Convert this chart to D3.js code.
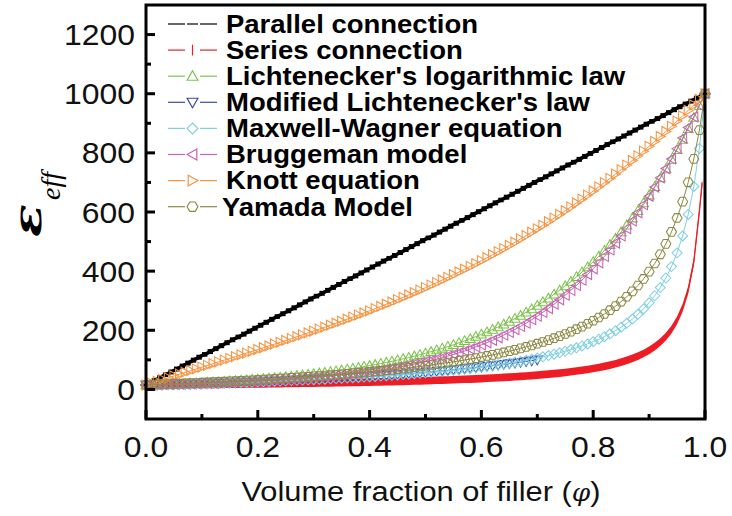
<!DOCTYPE html>
<html>
<head>
<meta charset="utf-8">
<script src="https://cdn.jsdelivr.net/npm/d3@7"></script>
<style>
  body { margin: 0; background: #fff; }
  svg { display: block; }
</style>
</head>
<body>
<svg id="chart" width="732" height="516"></svg>
<script>
// Volume fraction grid (step 0.01)
const phi = [0,0.01,0.02,0.03,0.04,0.05,0.06,0.07,0.08,0.09,
  0.1,0.11,0.12,0.13,0.14,0.15,0.16,0.17,0.18,0.19,
  0.2,0.21,0.22,0.23,0.24,0.25,0.26,0.27,0.28,0.29,
  0.3,0.31,0.32,0.33,0.34,0.35,0.36,0.37,0.38,0.39,
  0.4,0.41,0.42,0.43,0.44,0.45,0.46,0.47,0.48,0.49,
  0.5,0.51,0.52,0.53,0.54,0.55,0.56,0.57,0.58,0.59,
  0.6,0.61,0.62,0.63,0.64,0.65,0.66,0.67,0.68,0.69,
  0.7,0.71,0.72,0.73,0.74,0.75,0.76,0.77,0.78,0.79,
  0.8,0.81,0.82,0.83,0.84,0.85,0.86,0.87,0.88,0.89,
  0.9,0.91,0.92,0.93,0.94,0.95,0.96,0.97,0.98,0.99,1];

const parallelValues = [15,25,35,45,54,64,74,84,94,104,
  114,123,133,143,153,163,173,182,192,202,
  212,222,232,242,251,261,271,281,291,301,
  311,320,330,340,350,360,370,379,389,399,
  409,419,429,439,448,458,468,478,488,498,
  508,517,527,537,547,557,567,576,586,596,
  606,616,626,636,645,655,665,675,685,695,
  705,714,724,734,744,754,764,773,783,793,
  803,813,823,833,842,852,862,872,882,892,
  902,911,921,931,941,951,961,970,980,990,1000];

// Series connection: grid up to 0.99 plus a last point at 0.995
const seriesPhi = phi.slice(0, 100).concat([0.995]);
const seriesValues = [15.0,15.2,15.3,15.5,15.6,15.8,15.9,16.1,16.3,16.5,
  16.6,16.8,17.0,17.2,17.4,17.6,17.8,18.0,18.2,18.5,
  18.7,18.9,19.2,19.4,19.6,19.9,20.2,20.4,20.7,21.0,
  21.3,21.6,21.9,22.2,22.6,22.9,23.2,23.6,24.0,24.4,
  24.8,25.2,25.6,26.0,26.5,26.9,27.4,27.9,28.5,29.0,
  29.6,30.1,30.8,31.4,32.0,32.7,33.5,34.2,35.0,35.8,
  36.7,37.6,38.5,39.5,40.6,41.7,42.9,44.1,45.4,46.8,
  48.3,49.9,51.6,53.4,55.3,57.4,59.7,62.1,64.7,67.6,
  70.8,74.2,78.0,82.2,86.9,92.2,98.1,104.9,112.6,121.6,
  132.2,144.7,159.9,178.7,202.4,233.5,275.7,336.7,432.3,603.6,700];

const lichteneckerValues = [15.0,15.6,16.3,17.0,17.7,18.5,19.3,20.1,21.0,21.9,
  22.8,23.8,24.8,25.9,27.0,28.2,29.4,30.6,32.0,33.3,
  34.7,36.2,37.8,39.4,41.1,42.9,44.7,46.6,48.6,50.7,
  52.9,55.1,57.5,60.0,62.5,65.2,68.0,70.9,74.0,77.2,
  80.5,83.9,87.5,91.3,95.2,99.3,103.5,108.0,112.6,117.4,
  122.5,127.7,133.2,138.9,144.9,151.1,157.6,164.3,171.4,178.7,
  186.4,194.4,202.7,211.4,220.5,230.0,239.8,250.1,260.8,272.0,
  283.7,295.9,308.6,321.8,335.6,350.0,365.0,380.7,397.0,414.0,
  431.8,450.3,469.6,489.7,510.7,532.7,555.5,579.3,604.2,630.1,
  657.1,685.3,714.7,745.4,777.3,810.7,845.4,881.7,919.5,959.0,1000];

// Modified Lichtenecker: plotted up to 0.70
const modifiedPhi = phi.slice(0, 71);
const modifiedValues = [15.0,15.4,15.8,16.3,16.7,17.2,17.7,18.1,18.6,19.1,
  19.7,20.2,20.8,21.3,21.9,22.5,23.1,23.8,24.4,25.1,
  25.8,26.5,27.2,28.0,28.7,29.5,30.3,31.2,32.0,32.9,
  33.8,34.8,35.7,36.7,37.7,38.7,39.8,40.9,42.0,43.2,
  44.4,45.6,46.8,48.1,49.4,50.8,52.2,53.6,55.1,56.6,
  58.2,59.8,61.4,63.1,64.8,66.6,68.4,70.3,72.2,74.2,
  76.3,78.4,80.5,82.7,85.0,87.3,89.7,92.2,94.7,97.3,100.0];

const maxwellValues = [15.0,15.4,15.9,16.3,16.8,17.3,17.7,18.2,18.7,19.2,
  19.8,20.3,20.8,21.4,22.0,22.5,23.1,23.7,24.4,25.0,
  25.6,26.3,27.0,27.7,28.4,29.1,29.9,30.7,31.5,32.3,
  33.1,34.0,34.8,35.7,36.7,37.6,38.6,39.6,40.7,41.8,
  42.9,44.0,45.2,46.4,47.7,49.0,50.3,51.7,53.2,54.7,
  56.2,57.8,59.5,61.2,63.1,64.9,66.9,68.9,71.0,73.3,
  75.6,78.0,80.5,83.2,86.0,88.9,92.0,95.3,98.7,102.3,
  106.1,110.2,114.5,119.1,123.9,129.1,134.7,140.7,147.1,154.0,
  161.5,169.7,178.5,188.2,198.8,210.5,223.4,237.8,254.0,272.3,
  293.0,316.8,344.4,376.8,415.3,461.8,519.2,591.7,686.4,815.0,1000];

const bruggemanValues = [15.0,15.4,15.9,16.4,16.9,17.4,17.9,18.5,19.1,19.7,
  20.3,20.9,21.6,22.3,23.1,23.9,24.6,25.5,26.4,27.4,
  28.3,29.3,30.2,31.4,32.6,33.7,34.9,36.3,37.6,39.0,
  40.5,42.1,43.7,45.4,47.3,49.2,51.3,53.3,55.5,57.9,
  60.3,62.9,65.6,68.5,71.6,74.7,78.2,81.9,85.6,89.3,
  93.6,98.0,102.7,107.6,112.8,118.3,124.1,130.0,136.7,143.6,
  150.7,157.9,166.1,174.8,183.7,193.0,202.7,213.3,223.9,235.7,
  247.6,260.5,273.7,288.2,303.1,318.8,335.0,351.8,369.6,388.5,
  408.0,428.3,450.0,471.6,495.2,518.9,543.7,569.7,597.2,625.0,
  653.1,684.4,715.6,746.9,779.5,814.3,850.0,885.7,921.4,961.2,1000];

const knottValues = [15.0,21.2,27.3,33.4,39.4,45.5,51.5,57.5,63.4,69.4,
  75.3,81.3,87.2,93.2,99.1,105.0,111.0,117.0,122.9,129.0,
  135.0,141.0,147.1,153.3,159.4,165.6,171.9,178.2,184.5,190.9,
  197.4,203.9,210.5,217.2,223.9,230.7,237.6,244.5,251.6,258.7,
  266.0,273.3,280.7,288.3,295.9,303.7,311.5,319.5,327.6,335.8,
  344.2,352.7,361.3,370.0,378.9,388.0,397.2,406.5,416.0,425.6,
  435.5,445.4,455.6,465.9,476.4,487.1,497.9,509.0,520.2,531.6,
  543.2,555.1,567.1,579.3,591.8,604.4,617.3,630.4,643.7,657.2,
  671.0,685.0,699.2,713.7,728.4,743.4,758.6,774.1,789.8,805.8,
  822.1,838.6,855.4,872.5,889.8,907.5,925.4,943.6,962.1,980.9,1000];

const yamadaValues = [15.0,15.7,16.4,17.2,17.9,18.7,19.4,20.2,21.0,21.8,
  22.7,23.5,24.4,25.3,26.2,27.1,28.1,29.1,30.1,31.1,
  32.1,33.2,34.3,35.4,36.5,37.7,38.9,40.1,41.4,42.7,
  44.0,45.3,46.7,48.2,49.6,51.2,52.7,54.3,55.9,57.6,
  59.4,61.2,63.0,64.9,66.9,68.9,71.0,73.2,75.4,77.7,
  80.1,82.6,85.1,87.8,90.5,93.4,96.4,99.5,102.7,106.0,
  109.5,113.2,116.9,120.9,125.1,129.4,134.0,138.7,143.7,149.0,
  154.6,160.4,166.6,173.2,180.1,187.5,195.3,203.6,212.5,222.1,
  232.3,243.3,255.1,267.9,281.8,296.9,313.4,331.5,351.5,373.6,
  398.2,425.8,456.9,492.3,532.8,579.8,634.9,700.4,779.5,877.0,1000];

const modelNames = ["Parallel connection", "Series connection",
  "Lichtenecker's logarithmic law", "Modified Lichtenecker's law",
  "Maxwell-Wagner equation", "Bruggeman model", "Knott equation", "Yamada Model"];
const modelColors = ["#000000", "#ee1c25", "#7dc24a", "#3d4aa8",
  "#7fd0e2", "#c862b4", "#f7923f", "#8c8a44"];
const modelShapes = ["hbar", "band", "up", "down", "diamond", "left", "right", "hex"];

const xMajorTicks = [0, 0.2, 0.4, 0.6, 0.8, 1.0];
const xMinorTicks = [0.1, 0.3, 0.5, 0.7, 0.9];
const yMajorTicks = [0, 200, 400, 600, 800, 1000, 1200];
const yMinorTicks = [100, 300, 500, 700, 900, 1100];

const seriesList = [
  { phi: phi, values: parallelValues },
  { phi: seriesPhi, values: seriesValues },
  { phi: phi, values: lichteneckerValues },
  { phi: modifiedPhi, values: modifiedValues },
  { phi: phi, values: maxwellValues },
  { phi: phi, values: bruggemanValues },
  { phi: phi, values: knottValues },
  { phi: phi, values: yamadaValues }
].map((s, i) => ({
  name: modelNames[i], color: modelColors[i], shape: modelShapes[i],
  points: s.phi.map((p, j) => ({ p: p, v: s.values[j] }))
}));

const svg = d3.select("#chart");
const x = d3.scaleLinear().domain([0, 1]).range([146, 705]);
const y = d3.scaleLinear().domain([-100, 1300]).range([419, 5]);

// text is slightly wider than the regular face
const stretch = 1.1;

function markerPath(shape, r) {
  switch (shape) {
    case "hbar": return `M${-r},0H${r}`;
    case "vbar": case "band": return `M0,${-r}V${r}`;
    case "up": return `M0,${-r}L${r},${r*0.75}L${-r},${r*0.75}Z`;
    case "down": return `M0,${r}L${r},${-r*0.75}L${-r},${-r*0.75}Z`;
    case "left": return `M${-r},0L${r*0.8},${-r}L${r*0.8},${r}Z`;
    case "right": return `M${r},0L${-r*0.8},${-r}L${-r*0.8},${r}Z`;
    case "diamond": return `M0,${-r}L${r},0L0,${r}L${-r},0Z`;
    case "hex": {
      const pts = d3.range(6).map(k => [r * Math.cos(k * Math.PI / 3), r * Math.sin(k * Math.PI / 3)]);
      return "M" + pts.map(q => q.join(",")).join("L") + "Z";
    }
  }
  return "";
}

const line = d3.line().x(d => x(d.p)).y(d => y(d.v));
const plot = svg.append("g");

seriesList.forEach(s => {
  const g = plot.append("g");
  if (s.shape === "band") {
    // dense vertical bar markers merge into a band of constant vertical height
    g.append("path").datum(s.points)
      .attr("d", d3.area().x(d => x(d.p)).y0(d => y(d.v) + 3.8).y1(d => y(d.v) - 3.8))
      .attr("fill", s.color);
    g.append("path").datum(s.points).attr("d", line)
      .attr("fill", "none").attr("stroke", s.color).attr("stroke-width", 1.3);
    return;
  }
  const isBar = s.shape === "hbar";
  g.append("path").datum(s.points).attr("d", line)
    .attr("fill", "none").attr("stroke", s.color).attr("stroke-width", isBar ? 3.6 : 1);
  const r = isBar ? 5.5 : 5;
  g.selectAll("path.m").data(s.points).enter().append("path")
    .attr("class", "m")
    .attr("transform", d => `translate(${x(d.p)},${y(d.v)})`)
    .attr("d", markerPath(s.shape, r))
    .attr("fill", "none")
    .attr("stroke", s.color)
    .attr("stroke-width", isBar ? 2 : 1.05);
});

// Frame and inward ticks
const axes = svg.append("g").attr("stroke", "#000").attr("stroke-width", 3);
axes.append("rect")
  .attr("x", x(0)).attr("y", y(1300))
  .attr("width", x(1) - x(0)).attr("height", y(-100) - y(1300))
  .attr("fill", "none");
axes.selectAll("line.xmaj").data(xMajorTicks).enter().append("line")
  .attr("x1", d => x(d)).attr("x2", d => x(d)).attr("y1", y(-100)).attr("y2", y(-100) - 9);
axes.selectAll("line.xmin").data(xMinorTicks).enter().append("line")
  .attr("x1", d => x(d)).attr("x2", d => x(d)).attr("y1", y(-100)).attr("y2", y(-100) - 5);
axes.selectAll("line.ymaj").data(yMajorTicks).enter().append("line")
  .attr("y1", d => y(d)).attr("y2", d => y(d)).attr("x1", x(0)).attr("x2", x(0) + 9);
axes.selectAll("line.ymin").data(yMinorTicks).enter().append("line")
  .attr("y1", d => y(d)).attr("y2", d => y(d)).attr("x1", x(0)).attr("x2", x(0) + 5);

const sansFont = "'Liberation Sans', Arial, sans-serif";
svg.append("g").selectAll("text").data(xMajorTicks).enter().append("text")
  .attr("transform", d => `translate(${x(d)},457) scale(${stretch},1)`)
  .attr("text-anchor", "middle")
  .attr("font-family", sansFont).attr("font-size", 29).attr("fill", "#111")
  .text(d3.format(".1f"));
svg.append("g").selectAll("text").data(yMajorTicks).enter().append("text")
  .attr("transform", d => `translate(135,${y(d) + 10.5}) scale(${stretch},1)`)
  .attr("text-anchor", "end")
  .attr("font-family", sansFont).attr("font-size", 29).attr("fill", "#111")
  .text(d => d);

// Axis titles
const xt = svg.append("text")
  .attr("transform", `translate(421,501) scale(${stretch},1)`)
  .attr("text-anchor", "middle")
  .attr("font-family", sansFont).attr("font-size", 28).attr("fill", "#111");
xt.append("tspan").text("Volume fraction of filler (");
xt.append("tspan").attr("font-style", "italic").attr("font-family", "'DejaVu Serif', serif").attr("font-size", 24).text("\u03C6");
xt.append("tspan").text(")");

svg.append("text")
  .attr("transform", "translate(41,237) rotate(-90) scale(1.35,1)")
  .attr("font-family", "'DejaVu Serif', serif")
  .attr("font-weight", "bold").attr("font-style", "italic")
  .attr("font-size", 40).attr("fill", "#000")
  .text("\u03B5");
svg.append("text")
  .attr("transform", "translate(60,200) rotate(-90)")
  .attr("font-family", "'Liberation Serif', 'Times New Roman', serif")
  .attr("font-style", "italic").attr("font-size", 28).attr("fill", "#000")
  .text("eff");

// Legend
const legend = svg.append("g");
seriesList.forEach((s, i) => {
  const cy = 24 + i * 26.1;
  const g = legend.append("g");
  g.append("line").attr("x1", 168).attr("x2", 185).attr("y1", cy).attr("y2", cy)
    .attr("stroke", s.color).attr("stroke-width", 1.2);
  g.append("line").attr("x1", 200).attr("x2", 217).attr("y1", cy).attr("y2", cy)
    .attr("stroke", s.color).attr("stroke-width", 1.2);
  const shape = s.shape === "band" ? "vbar" : s.shape;
  g.append("path").attr("transform", `translate(192.5,${cy})`)
    .attr("d", markerPath(shape, shape === "hbar" ? 5.5 : 5.4))
    .attr("fill", "none").attr("stroke", s.color)
    .attr("stroke-width", 1.2);
  g.append("text")
    .attr("transform", `translate(${i === 7 ? 222 : 226},${cy + 8.8}) scale(${stretch},1)`)
    .attr("font-family", sansFont).attr("font-weight", "bold")
    .attr("font-size", 25).attr("fill", "#000")
    .text(s.name);
});
</script>
</body>
</html>
